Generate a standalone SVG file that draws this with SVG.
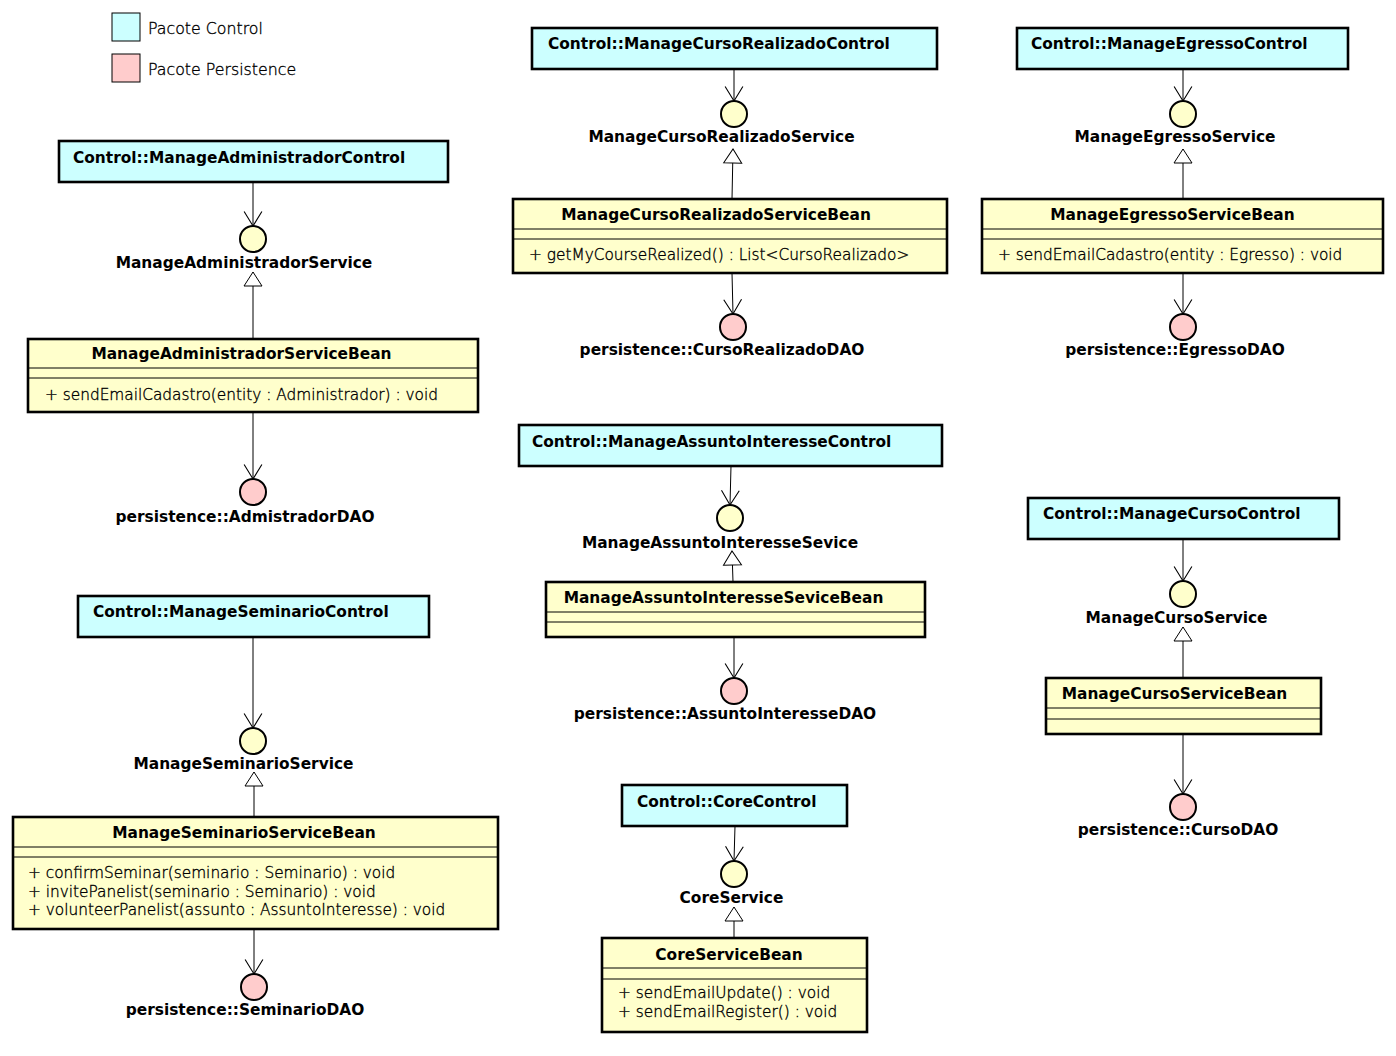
<svg xmlns="http://www.w3.org/2000/svg" width="1396" height="1056" viewBox="0 0 1396 1056">
<style>
.ctl{fill:#ccffff;stroke:#000;stroke-width:2.6}
.bean{fill:#ffffcc;stroke:#000;stroke-width:2.6}
.sep{stroke:#000;stroke-width:1}
.ifc{fill:#ffffcc;stroke:#000;stroke-width:2}
.dao{fill:#ffcccc;stroke:#000;stroke-width:2}
.lg{stroke:#000;stroke-width:1}
.nm{font-family:'DejaVu Sans',sans-serif;font-weight:bold;font-size:15.4px;fill:#000}
.lb{font-family:'DejaVu Sans',sans-serif;font-weight:bold;font-size:15.4px;fill:#000;text-anchor:middle}
.mt{font-family:'DejaVu Sans',sans-serif;font-weight:200;font-size:15.35px;fill:#000;stroke:#000;stroke-width:0.35}
.lt{font-family:'DejaVu Sans',sans-serif;font-weight:200;font-size:15.8px;fill:#000;stroke:#000;stroke-width:0.35}
.dep{stroke:#000;stroke-width:1;fill:none;marker-end:url(#open)}
.real{stroke:#000;stroke-width:1;fill:none;marker-end:url(#tri)}
</style>
<defs>
<marker id="open" markerUnits="userSpaceOnUse" markerWidth="20" markerHeight="20" viewBox="0 0 14 18" refX="13" refY="9" orient="auto" overflow="visible">
<path d="M0,1 L13,9 L0,17" fill="none" stroke="#000" stroke-width="1"/>
</marker>
<marker id="tri" markerUnits="userSpaceOnUse" markerWidth="20" markerHeight="20" viewBox="0 0 16 20" refX="15" refY="10" orient="auto" overflow="visible">
<path d="M1,1 L15,10 L1,19 Z" fill="#fff" stroke="#000" stroke-width="1"/>
</marker>
</defs>
<rect width="1396" height="1056" fill="#fff"/>

<g id="legend">
<rect x="112" y="13" width="28" height="28" fill="#ccffff" class="lg"/>
<text x="148" y="34" class="lt">Pacote Control</text>
<rect x="112" y="54" width="28" height="28" fill="#ffcccc" class="lg"/>
<text x="148" y="75" class="lt">Pacote Persistence</text>
</g>

<g id="connectors">
<line class="dep" x1="253" y1="182" x2="253" y2="226"/>
<line class="real" x1="253" y1="339" x2="253" y2="272"/>
<line class="dep" x1="253" y1="412" x2="253" y2="479"/>

<line class="dep" x1="734" y1="69" x2="734" y2="101"/>
<line class="real" x1="732" y1="199" x2="733" y2="149"/>
<line class="dep" x1="732" y1="273" x2="733" y2="314"/>

<line class="dep" x1="1183" y1="69" x2="1183" y2="101"/>
<line class="real" x1="1183" y1="199" x2="1183" y2="149"/>
<line class="dep" x1="1183" y1="273" x2="1183" y2="314"/>

<line class="dep" x1="731" y1="466" x2="730" y2="505"/>
<line class="real" x1="733" y1="582" x2="732" y2="551"/>
<line class="dep" x1="734" y1="637" x2="734" y2="678"/>

<line class="dep" x1="1183" y1="539" x2="1183" y2="581"/>
<line class="real" x1="1183" y1="678" x2="1183" y2="627"/>
<line class="dep" x1="1183" y1="734" x2="1183" y2="794"/>

<line class="dep" x1="253" y1="637" x2="253" y2="728"/>
<line class="real" x1="254" y1="817" x2="254" y2="772"/>
<line class="dep" x1="254" y1="929" x2="254" y2="974"/>

<line class="dep" x1="735" y1="826" x2="734" y2="861"/>
<line class="real" x1="734" y1="938" x2="734" y2="907"/>
</g>

<!-- Administrador -->
<g id="ManageAdministradorControl">
<rect class="ctl" x="59" y="141" width="389" height="41"/>
<text class="nm" x="73" y="163">Control::ManageAdministradorControl</text>
</g>
<g id="ManageAdministradorService">
<circle class="ifc" cx="253" cy="239" r="13"/>
<text class="lb" x="244" y="268">ManageAdministradorService</text>
</g>
<g id="ManageAdministradorServiceBean">
<rect class="bean" x="28" y="339" width="450" height="73"/>
<line class="sep" x1="29" y1="368" x2="477" y2="368"/>
<line class="sep" x1="29" y1="378" x2="477" y2="378"/>
<text class="lb" x="241.5" y="359">ManageAdministradorServiceBean</text>
<text class="mt" x="45" y="400">+ sendEmailCadastro(entity : Administrador) : void</text>
</g>
<g id="AdmistradorDAO">
<circle class="dao" cx="253" cy="492" r="13"/>
<text class="lb" x="245" y="522">persistence::AdmistradorDAO</text>
</g>

<!-- CursoRealizado -->
<g id="ManageCursoRealizadoControl">
<rect class="ctl" x="532" y="28" width="405" height="41"/>
<text class="nm" x="548" y="49">Control::ManageCursoRealizadoControl</text>
</g>
<g id="ManageCursoRealizadoService">
<circle class="ifc" cx="734" cy="114" r="13"/>
<text class="lb" x="721.5" y="142">ManageCursoRealizadoService</text>
</g>
<g id="ManageCursoRealizadoServiceBean">
<rect class="bean" x="513" y="199" width="434" height="74"/>
<line class="sep" x1="514" y1="229" x2="946" y2="229"/>
<line class="sep" x1="514" y1="239" x2="946" y2="239"/>
<text class="lb" x="716" y="220">ManageCursoRealizadoServiceBean</text>
<text class="mt" x="529" y="260">+ getMyCourseRealized() : List&lt;CursoRealizado&gt;</text>
</g>
<g id="CursoRealizadoDAO">
<circle class="dao" cx="733" cy="327" r="13"/>
<text class="lb" x="722" y="355">persistence::CursoRealizadoDAO</text>
</g>

<!-- Egresso -->
<g id="ManageEgressoControl">
<rect class="ctl" x="1017" y="28" width="331" height="41"/>
<text class="nm" x="1031" y="49">Control::ManageEgressoControl</text>
</g>
<g id="ManageEgressoService">
<circle class="ifc" cx="1183" cy="114" r="13"/>
<text class="lb" x="1175" y="142">ManageEgressoService</text>
</g>
<g id="ManageEgressoServiceBean">
<rect class="bean" x="982" y="199" width="401" height="74"/>
<line class="sep" x1="983" y1="229" x2="1382" y2="229"/>
<line class="sep" x1="983" y1="239" x2="1382" y2="239"/>
<text class="lb" x="1172.5" y="220">ManageEgressoServiceBean</text>
<text class="mt" x="998" y="260">+ sendEmailCadastro(entity : Egresso) : void</text>
</g>
<g id="EgressoDAO">
<circle class="dao" cx="1183" cy="327" r="13"/>
<text class="lb" x="1175" y="355">persistence::EgressoDAO</text>
</g>

<!-- AssuntoInteresse -->
<g id="ManageAssuntoInteresseControl">
<rect class="ctl" x="519" y="425" width="423" height="41"/>
<text class="nm" x="532" y="447">Control::ManageAssuntoInteresseControl</text>
</g>
<g id="ManageAssuntoInteresseSevice">
<circle class="ifc" cx="730" cy="518" r="13"/>
<text class="lb" x="720" y="548">ManageAssuntoInteresseSevice</text>
</g>
<g id="ManageAssuntoInteresseSeviceBean">
<rect class="bean" x="546" y="582" width="379" height="55"/>
<line class="sep" x1="547" y1="612" x2="924" y2="612"/>
<line class="sep" x1="547" y1="622" x2="924" y2="622"/>
<text class="lb" x="723.5" y="603">ManageAssuntoInteresseSeviceBean</text>
</g>
<g id="AssuntoInteresseDAO">
<circle class="dao" cx="734" cy="691" r="13"/>
<text class="lb" x="725" y="719">persistence::AssuntoInteresseDAO</text>
</g>

<!-- Curso -->
<g id="ManageCursoControl">
<rect class="ctl" x="1028" y="498" width="311" height="41"/>
<text class="nm" x="1043" y="519">Control::ManageCursoControl</text>
</g>
<g id="ManageCursoService">
<circle class="ifc" cx="1183" cy="594" r="13"/>
<text class="lb" x="1176.5" y="623">ManageCursoService</text>
</g>
<g id="ManageCursoServiceBean">
<rect class="bean" x="1046" y="678" width="275" height="56"/>
<line class="sep" x1="1047" y1="708" x2="1320" y2="708"/>
<line class="sep" x1="1047" y1="719" x2="1320" y2="719"/>
<text class="lb" x="1174.5" y="699">ManageCursoServiceBean</text>
</g>
<g id="CursoDAO">
<circle class="dao" cx="1183" cy="807" r="13"/>
<text class="lb" x="1178" y="835">persistence::CursoDAO</text>
</g>

<!-- Seminario -->
<g id="ManageSeminarioControl">
<rect class="ctl" x="78" y="596" width="351" height="41"/>
<text class="nm" x="93" y="617">Control::ManageSeminarioControl</text>
</g>
<g id="ManageSeminarioService">
<circle class="ifc" cx="253" cy="741" r="13"/>
<text class="lb" x="243.5" y="769">ManageSeminarioService</text>
</g>
<g id="ManageSeminarioServiceBean">
<rect class="bean" x="13" y="817" width="485" height="112"/>
<line class="sep" x1="14" y1="847" x2="497" y2="847"/>
<line class="sep" x1="14" y1="857" x2="497" y2="857"/>
<text class="lb" x="244" y="838">ManageSeminarioServiceBean</text>
<text class="mt" x="28" y="878">+ confirmSeminar(seminario : Seminario) : void</text>
<text class="mt" x="28" y="897">+ invitePanelist(seminario : Seminario) : void</text>
<text class="mt" x="28" y="915">+ volunteerPanelist(assunto : AssuntoInteresse) : void</text>
</g>
<g id="SeminarioDAO">
<circle class="dao" cx="254" cy="987" r="13"/>
<text class="lb" x="245" y="1015">persistence::SeminarioDAO</text>
</g>

<!-- Core -->
<g id="CoreControl">
<rect class="ctl" x="622" y="785" width="225" height="41"/>
<text class="nm" x="637" y="807">Control::CoreControl</text>
</g>
<g id="CoreService">
<circle class="ifc" cx="734" cy="874" r="13"/>
<text class="lb" x="731.5" y="903">CoreService</text>
</g>
<g id="CoreServiceBean">
<rect class="bean" x="602" y="938" width="265" height="94"/>
<line class="sep" x1="603" y1="968" x2="866" y2="968"/>
<line class="sep" x1="603" y1="979" x2="866" y2="979"/>
<text class="lb" x="729" y="960">CoreServiceBean</text>
<text class="mt" x="618" y="998">+ sendEmailUpdate() : void</text>
<text class="mt" x="618" y="1017">+ sendEmailRegister() : void</text>
</g>
</svg>
